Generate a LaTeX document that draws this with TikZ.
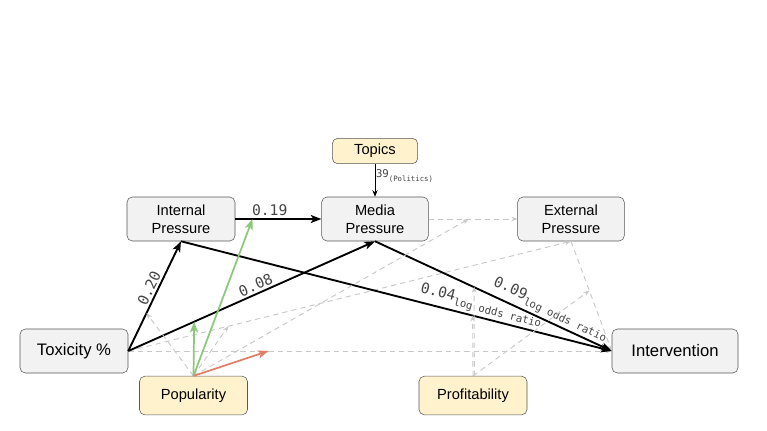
\documentclass[tikz,border=0pt]{standalone}
\usepackage{fontspec}
\setmainfont{Liberation Sans}
\newfontfamily\monofont{DejaVu Sans Mono}
\usetikzlibrary{arrows.meta}
\definecolor{boxgray}{HTML}{F2F2F2}
\definecolor{boxyellow}{HTML}{FFF2CC}
\definecolor{boxline}{HTML}{555555}
\definecolor{dashgray}{HTML}{C8C8C8}
\definecolor{popgreen}{HTML}{8CC77A}
\definecolor{popred}{HTML}{E07F68}
\definecolor{labelgray}{HTML}{444444}
\newcommand{\oddsnote}{\raisebox{-0.55ex}{\fontsize{8}{9}\selectfont log odds ratio}}

\begin{document}
\begin{tikzpicture}[x=0.75pt,y=-0.75pt,
	var/.style={draw=boxline, fill=boxgray, rounded corners=4pt, minimum width=81pt, minimum height=33pt, inner sep=1pt, align=center, font=\fontsize{11}{13.5}\selectfont},
	ctrl/.style={var, fill=boxyellow, minimum height=29pt},
	bigvar/.style={font=\fontsize{12.5}{14}\selectfont},
	effect/.style={-{Stealth[length=8pt,width=6pt,inset=2pt]}, line width=1.4pt},
	weak/.style={-{Stealth[length=4.5pt,width=3.5pt]}, dashgray, dash pattern=on 4pt off 3pt, line width=0.7pt},
	modgreen/.style={-{Stealth[length=8pt,width=6pt,inset=2pt]}, popgreen, line width=1.3pt},
	modred/.style={-{Stealth[length=8pt,width=6pt,inset=2pt]}, popred, line width=1.3pt},
	coef/.style={font=\monofont\fontsize{11}{12}\selectfont, text=labelgray, inner sep=1.5pt},
	]
	\useasboundingbox (0,0) rectangle (767,430);
	%knoten
	\node[ctrl, minimum width=64pt, minimum height=19pt] (topics) at (375,151) {Topics};
	\node[var] (internal) at (181,219) {Internal\\Pressure};
	\node[var, minimum width=80pt] (media) at (375,219) {Media\\Pressure};
	\node[var, minimum width=80pt] (external) at (571,219) {External\\Pressure};
	\node[var, bigvar] (toxicity) at (74,351) {Toxicity \%};
	\node[var, bigvar, minimum width=94.5pt] (intervention) at (675,351) {Intervention};
	\node[ctrl] (popularity) at (193.5,395.5) {Popularity};
	\node[ctrl] (profit) at (473,395.5) {Profitability};
	%gestrichelt
	\draw[weak] (toxicity.east) -- (intervention.west) coordinate[pos=.29] (m-ti);
	\draw[weak] (toxicity.east) -- (external.south) coordinate[pos=.226] (m-te);
	\draw[weak] (media.east) -- (external.west) coordinate[pos=.45] (m-me);
	\draw[weak] (external.south) -- (intervention.west) coordinate[pos=.45] (m-ei);
	%effekte
	\draw[-{Stealth[length=5pt,width=4pt]}, line width=0.6pt] (topics) -- (media)
		node[right, pos=.36, inner sep=0.5pt, font=\monofont\fontsize{8}{9}\selectfont, text=labelgray] {39\raisebox{-0.7ex}{\fontsize{5.5}{6}\selectfont(Politics)}};
	\draw[effect] (internal.east) -- (media.west) coordinate[pos=.2] (m-im)
		node[coef, above, pos=.4] {0.19};
	\draw[effect] (toxicity.east) -- (internal.south) coordinate[pos=.345] (m-tn)
		node[coef, above, sloped, pos=.54] {0.20};
	\draw[effect] (toxicity.east) -- (media.south) coordinate[pos=.267] (m-tm)
		node[coef, above, sloped, pos=.53] {0.08};
	\draw[effect] (internal.south) -- (intervention.west) coordinate[pos=.677] (m-ni)
		node[coef, above, sloped, pos=.69] {0.04\oddsnote};
	\draw[effect] (media.south) -- (intervention.west) coordinate[pos=.413] (m-mi)
		node[coef, above, sloped, pos=.72] {0.09\oddsnote};
	%moderatoren
	\draw[weak] (popularity.north) -- (m-tn);
	\draw[weak] (popularity.north) -- (m-te);
	\draw[weak] (popularity.north) -- (m-me);
	\draw[weak] ([xshift=1pt]profit.north) -- ([xshift=1pt]m-mi);
	\draw[weak] (profit.north) -- (m-ni);
	\draw[weak] (profit.north) -- (m-ei);
	\draw[modgreen] (popularity.north) -- (m-tm);
	\draw[modgreen] (popularity.north) -- (m-im);
	\draw[modred] (popularity.north) -- (m-ti);
\end{tikzpicture}
\end{document}
